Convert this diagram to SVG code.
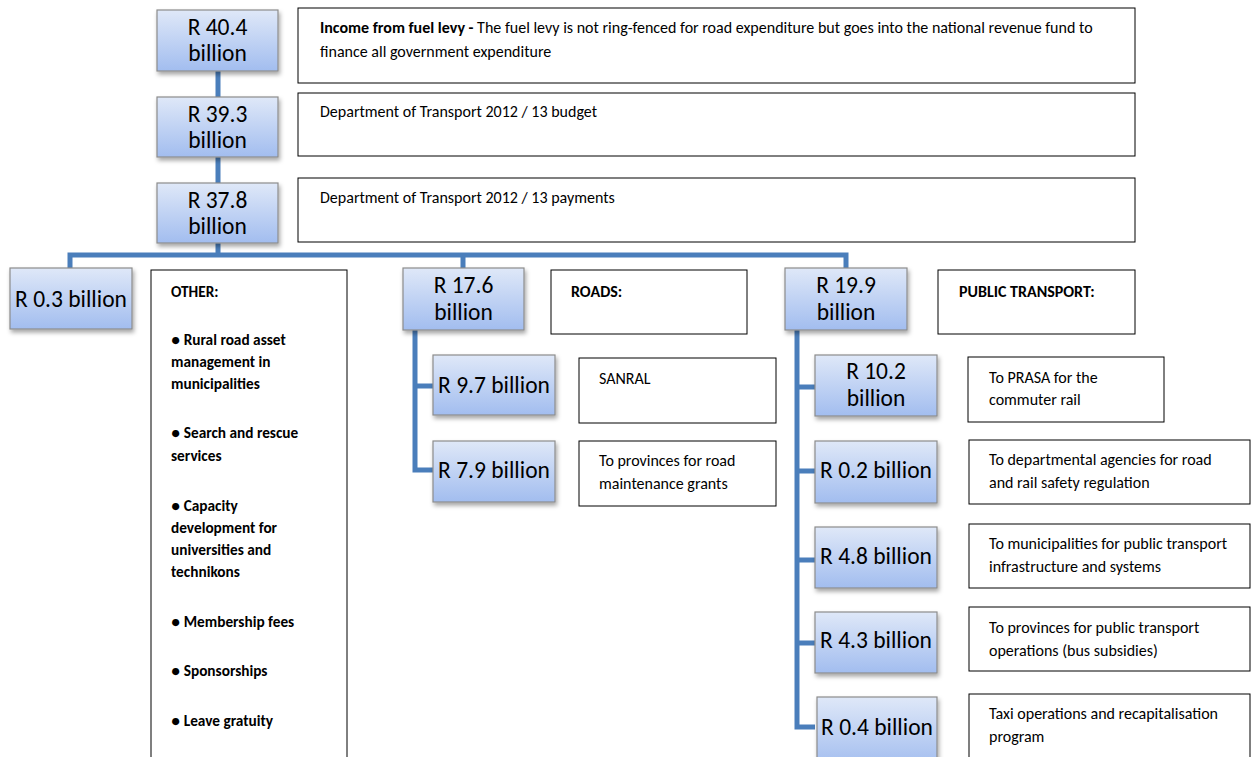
<svg xmlns="http://www.w3.org/2000/svg" width="1252" height="757" viewBox="0 0 1252 757">
<style>
.bx{fill:url(#g);stroke:#8c8c8c;stroke-width:1.2;filter:url(#sh)}
.nt{fill:#fff;stroke:#000;stroke-width:1}
.bt{font-family:Carlito,Lato,"Liberation Sans",sans-serif;font-size:23.5px;fill:#000;text-anchor:middle}
.tt{font-family:Carlito,Lato,"Liberation Sans",sans-serif;font-size:16px;fill:#000}
.ot{font-family:Carlito,Lato,"Liberation Sans",sans-serif;font-size:15.3px;font-weight:bold;fill:#000}
.b{font-weight:bold}
.cn{fill:none;stroke:#4a7ebb;stroke-width:5}
</style>
<defs>
<linearGradient id="g" x1="0" y1="0" x2="0" y2="1">
<stop offset="0" stop-color="#dfe8f8"/>
<stop offset="1" stop-color="#a2bdef"/>
</linearGradient>
<filter id="sh" x="-10%" y="-10%" width="125%" height="135%">
<feDropShadow dx="1.5" dy="3" stdDeviation="2" flood-color="#000" flood-opacity="0.35"/>
</filter>
</defs>
<rect width="1252" height="757" fill="#fff"/>
<g id="connectors">
<path class="cn" d="M218 71V183M218 243V255"/>
<path class="cn" d="M70 268V255H846V268M463 255V268"/>
<path class="cn" d="M415 330V470H433M415 386H433"/>
<path class="cn" d="M797 330V727H815M797 387H815M797 471H815M797 560H815M797 643H815"/>
</g>
<g id="n404"><rect class="bx" x="157" y="10" width="121" height="61"/><text class="bt" x="217.5" y="35">R 40.4</text><text class="bt" x="217.5" y="61">billion</text></g>
<g id="note1"><rect class="nt" x="298" y="8" width="837" height="75"/><text class="tt" x="320" y="33"><tspan class="b">Income from fuel levy - </tspan>The fuel levy is not ring-fenced for road expenditure but goes into the national revenue fund to</text><text class="tt" x="320" y="57">finance all government expenditure</text></g>
<g id="n393"><rect class="bx" x="157" y="97" width="121" height="60"/><text class="bt" x="217.5" y="122">R 39.3</text><text class="bt" x="217.5" y="148">billion</text></g>
<g id="note2"><rect class="nt" x="298" y="93" width="837" height="63"/><text class="tt" x="320" y="117">Department of Transport 2012 / 13 budget</text></g>
<g id="n378"><rect class="bx" x="157" y="183" width="121" height="60"/><text class="bt" x="217.5" y="208">R 37.8</text><text class="bt" x="217.5" y="234">billion</text></g>
<g id="note3"><rect class="nt" x="298" y="178" width="837" height="64"/><text class="tt" x="320" y="203">Department of Transport 2012 / 13 payments</text></g>
<g id="n03"><rect class="bx" x="10" y="268" width="122" height="61"/><text class="bt" x="71" y="307">R 0.3 billion</text></g>
<g id="other"><rect class="nt" x="151" y="270" width="196" height="500"/>
<g class="ot">
<text x="171" y="297">OTHER:</text>
<text x="171" y="345">● Rural road asset</text>
<text x="171" y="367">management in</text>
<text x="171" y="389">municipalities</text>
<text x="171" y="438">● Search and rescue</text>
<text x="171" y="461">services</text>
<text x="171" y="511">● Capacity</text>
<text x="171" y="533">development for</text>
<text x="171" y="555">universities and</text>
<text x="171" y="577">technikons</text>
<text x="171" y="627">● Membership fees</text>
<text x="171" y="676">● Sponsorships</text>
<text x="171" y="726">● Leave gratuity</text>
</g></g>
<g id="n176"><rect class="bx" x="403" y="268" width="121" height="62"/><text class="bt" x="463.5" y="293">R 17.6</text><text class="bt" x="463.5" y="320">billion</text></g>
<g id="roads"><rect class="nt" x="551" y="270" width="196" height="64"/><text class="tt b" x="571" y="297">ROADS:</text></g>
<g id="n97"><rect class="bx" x="433" y="355" width="122" height="60"/><text class="bt" x="494" y="393">R 9.7 billion</text></g>
<g id="sanral"><rect class="nt" x="579" y="358" width="197" height="65"/><text class="tt" x="599" y="384">SANRAL</text></g>
<g id="n79"><rect class="bx" x="433" y="441" width="122" height="61"/><text class="bt" x="494" y="478">R 7.9 billion</text></g>
<g id="prov"><rect class="nt" x="579" y="441" width="197" height="65"/><text class="tt" x="599" y="466">To provinces for road</text><text class="tt" x="599" y="489">maintenance grants</text></g>
<g id="n199"><rect class="bx" x="785" y="268" width="122" height="62"/><text class="bt" x="846" y="293">R 19.9</text><text class="bt" x="846" y="320">billion</text></g>
<g id="pt"><rect class="nt" x="938" y="270" width="197" height="64"/><text class="tt b" x="959" y="297">PUBLIC TRANSPORT:</text></g>
<g id="n102"><rect class="bx" x="815" y="355" width="122" height="61"/><text class="bt" x="876" y="379">R 10.2</text><text class="bt" x="876" y="406">billion</text></g>
<g id="prasa"><rect class="nt" x="968" y="357" width="196" height="65"/><text class="tt" x="989" y="383">To PRASA for the</text><text class="tt" x="989" y="405">commuter rail</text></g>
<g id="n02"><rect class="bx" x="815" y="441" width="122" height="62"/><text class="bt" x="876" y="478">R 0.2 billion</text></g>
<g id="agency"><rect class="nt" x="969" y="440" width="281" height="64"/><text class="tt" x="989" y="465">To departmental agencies for road</text><text class="tt" x="989" y="488">and rail safety regulation</text></g>
<g id="n48"><rect class="bx" x="815" y="527" width="122" height="61"/><text class="bt" x="876" y="564">R 4.8 billion</text></g>
<g id="muni"><rect class="nt" x="969" y="524" width="281" height="64"/><text class="tt" x="989" y="549">To municipalities for public transport</text><text class="tt" x="989" y="572">infrastructure and systems</text></g>
<g id="n43"><rect class="bx" x="815" y="612" width="122" height="61"/><text class="bt" x="876" y="648">R 4.3 billion</text></g>
<g id="bus"><rect class="nt" x="969" y="607" width="281" height="64"/><text class="tt" x="989" y="633">To provinces for public transport</text><text class="tt" x="989" y="656">operations (bus subsidies)</text></g>
<g id="n04"><rect class="bx" x="817" y="697" width="120" height="70"/><text class="bt" x="877" y="735">R 0.4 billion</text></g>
<g id="taxi"><rect class="nt" x="969" y="694" width="281" height="70"/><text class="tt" x="989" y="719">Taxi operations and recapitalisation</text><text class="tt" x="989" y="742">program</text></g>
</svg>
